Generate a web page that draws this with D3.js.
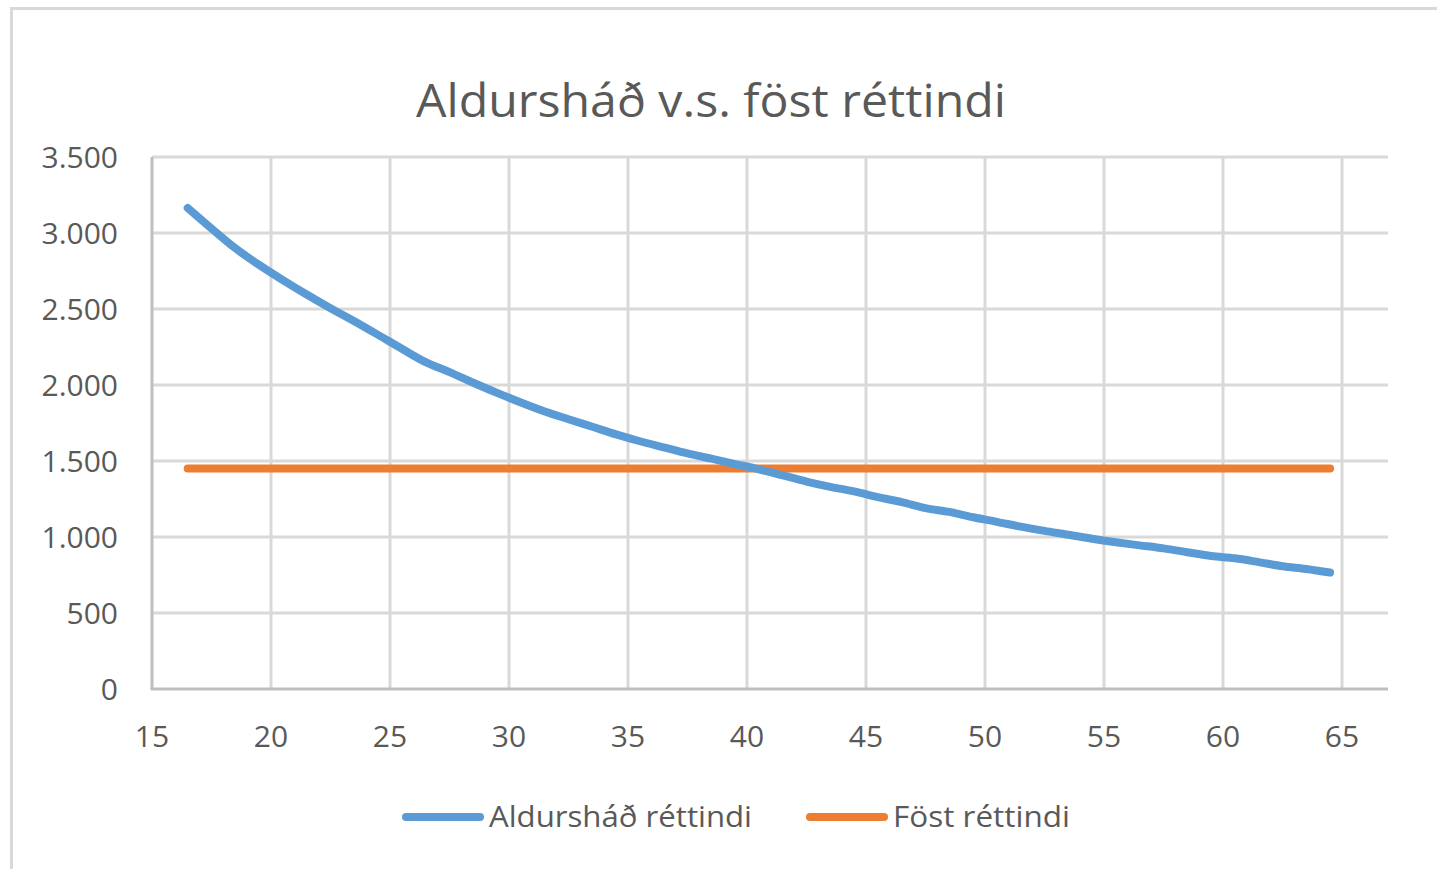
<!DOCTYPE html>
<html>
<head>
<meta charset="utf-8">
<script src="https://cdn.jsdelivr.net/npm/d3@7"></script>
<style>
  html, body { margin: 0; padding: 0; background: #fff; }
  svg { display: block; font-family: "Open Sans", "Noto Sans", sans-serif; }
</style>
</head>
<body>
<div id="chart"></div>
<script>
const width = 1437;
const height = 869;

// data
const ages = d3.range(16.5, 65, 1);
const agedRights = [
  3165, 3030, 2900, 2790, 2690, 2595, 2505, 2420, 2330, 2238,
  2150, 2085, 2015, 1948, 1885, 1826, 1775, 1725, 1675, 1630,
  1590, 1550, 1515, 1480, 1445, 1405, 1365, 1330, 1300, 1262,
  1230, 1190, 1165, 1130, 1100, 1068, 1040, 1015, 988, 965,
  945, 925, 900, 875, 860, 835, 808, 790, 766
];
const fixedRights = ages.map(() => 1450);
const xTicks = [15, 20, 25, 30, 35, 40, 45, 50, 55, 60, 65];
const yTicks = [0, 500, 1000, 1500, 2000, 2500, 3000, 3500];
const seriesNames = ["Aldursháð réttindi", "Föst réttindi"];
const seriesColors = ["#5B9BD5", "#ED7D31"];
const title = "Aldursháð v.s. föst réttindi";

const plot = { left: 152, right: 1388, top: 157, bottom: 689 };

const x = d3.scaleLinear().domain([15, 65 + (1388 - 1342) / 23.8]).range([plot.left, plot.right]);
const y = d3.scaleLinear().domain([0, 3500]).range([plot.bottom, plot.top]);

const svg = d3.select("#chart").append("svg")
  .attr("width", width)
  .attr("height", height);

// chart frame (cropped at right and bottom)
svg.append("rect")
  .attr("x", 11.5).attr("y", 8.5)
  .attr("width", 1460).attr("height", 880)
  .attr("fill", "#fff")
  .attr("stroke", "#D9D9D9")
  .attr("stroke-width", 3);

svg.append("text")
  .attr("x", 711)
  .attr("y", 117)
  .attr("text-anchor", "middle")
  .attr("textLength", 590)
  .attr("lengthAdjust", "spacingAndGlyphs")
  .style("font-size", "45px")
  .style("fill", "#595959")
  .text(title);

// gridlines
svg.append("g")
  .selectAll("line")
  .data(yTicks.slice(1))
  .join("line")
  .attr("x1", plot.left).attr("x2", plot.right)
  .attr("y1", (d) => y(d)).attr("y2", (d) => y(d))
  .attr("stroke", "#D9D9D9")
  .attr("stroke-width", 3);

svg.append("g")
  .selectAll("line")
  .data(xTicks.slice(1))
  .join("line")
  .attr("x1", (d) => x(d)).attr("x2", (d) => x(d))
  .attr("y1", plot.top).attr("y2", plot.bottom)
  .attr("stroke", "#D9D9D9")
  .attr("stroke-width", 3);

// axis lines
svg.append("line")
  .attr("x1", plot.left).attr("x2", plot.left)
  .attr("y1", plot.top).attr("y2", plot.bottom)
  .attr("stroke", "#BFBFBF").attr("stroke-width", 3);
svg.append("line")
  .attr("x1", plot.left - 1.5).attr("x2", plot.right)
  .attr("y1", plot.bottom).attr("y2", plot.bottom)
  .attr("stroke", "#BFBFBF").attr("stroke-width", 3);

const fmt = (v) => d3.format(",")(v).replace(/,/g, ".");

svg.append("g")
  .selectAll("text")
  .data(yTicks)
  .join("text")
  .attr("x", 118)
  .attr("y", (d) => y(d))
  .attr("dy", "0.36em")
  .attr("text-anchor", "end")
  .style("font-size", "30px")
  .style("fill", "#595959")
  .text(fmt);

svg.append("g")
  .selectAll("text")
  .data(xTicks)
  .join("text")
  .attr("x", (d) => x(d))
  .attr("y", 747)
  .attr("text-anchor", "middle")
  .style("font-size", "30px")
  .style("fill", "#595959")
  .text((d) => d);

const line = d3.line()
  .x((d) => x(d[0]))
  .y((d) => y(d[1]))
  .curve(d3.curveMonotoneX);

[fixedRights, agedRights].forEach((vals, i) => {
  const color = i === 0 ? seriesColors[1] : seriesColors[0];
  svg.append("path")
    .datum(ages.map((a, j) => [a, vals[j]]))
    .attr("d", line)
    .attr("fill", "none")
    .attr("stroke", color)
    .attr("stroke-width", 8)
    .attr("stroke-linecap", "round")
    .attr("stroke-linejoin", "round");
});

// legend
const legendItems = [
  { name: seriesNames[0], color: seriesColors[0], x: 402, len: 263 },
  { name: seriesNames[1], color: seriesColors[1], x: 806, len: 177 }
];
const lg = svg.append("g");
legendItems.forEach((d) => {
  lg.append("line")
    .attr("x1", d.x + 4).attr("x2", d.x + 78)
    .attr("y1", 817).attr("y2", 817)
    .attr("stroke", d.color)
    .attr("stroke-width", 8)
    .attr("stroke-linecap", "round");
  lg.append("text")
    .attr("x", d.x + 87)
    .attr("y", 827)
    .attr("textLength", d.len)
    .attr("lengthAdjust", "spacingAndGlyphs")
    .style("font-size", "30px")
    .style("fill", "#595959")
    .text(d.name);
});
</script>
</body>
</html>
